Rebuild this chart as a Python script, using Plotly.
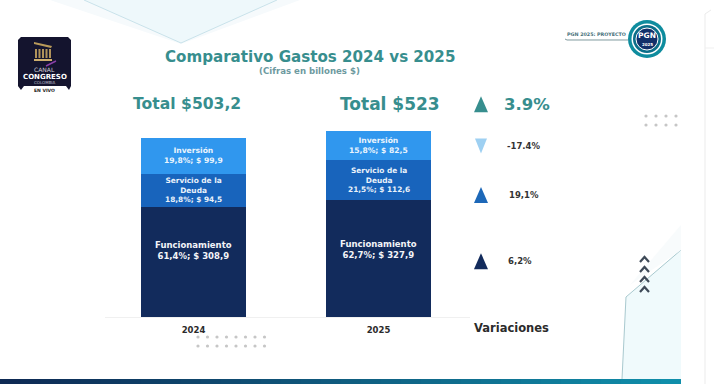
import plotly.graph_objects as go

# ---- data ----
years = ["2024", "2025"]
funcionamiento = [308.9, 327.9]
servicio_deuda = [94.5, 112.6]
inversion = [99.9, 82.5]
func_labels = ["Funcionamiento<br>61,4%; $ 308,9", "Funcionamiento<br>62,7%; $ 327,9"]
deuda_labels = ["Servicio de la<br>Deuda<br>18,8%; $ 94,5", "Servicio de la<br>Deuda<br>21,5%; $ 112,6"]
inv_labels = ["Inversión<br>19,8%; $ 99,9", "Inversión<br>15,8%; $ 82,5"]
totals = ["Total $503,2", "Total $523"]
total_heights = [598, 598]
variation_labels = ["3.9%", "-17.4%", "19,1%", "6,2%"]
variation_heights = [598, 481, 343, 157]
variation_dirs = [1, -1, 1, 1]

W, H, BASE = 714, 384, 317
PX_PER_UNIT = 0.3557
TEAL = "#378E8E"
C_FUNC, C_DEUDA, C_INV = "#122B5C", "#1864BC", "#3097EE"
FONT = "DejaVu Sans"

x_pos = [0, 1]
var_x = 1.554

fig = go.Figure()
for name, vals, col in [("Funcionamiento", funcionamiento, C_FUNC),
                        ("Servicio de la Deuda", servicio_deuda, C_DEUDA),
                        ("Inversión", inversion, C_INV)]:
    fig.add_bar(x=x_pos, y=vals, name=name, marker=dict(color=col, line_width=0),
                width=0.568, showlegend=False, hoverinfo="skip")


def px(x):
    return x / W


def py(y):
    return (BASE - y) / BASE


shapes = []

# variation triangles, anchored to the data axes and sized in pixels
for yv, d, col, hw, hh in zip(variation_heights, variation_dirs,
                              [TEAL, "#9ED0F2", "#1D68B8", C_FUNC],
                              [7, 6, 7, 7], [8, 7.5, 8, 8]):
    shapes.append(dict(type="path", xref="x", yref="y", xsizemode="pixel", ysizemode="pixel",
                       xanchor=var_x, yanchor=yv, layer="above", line_width=0, fillcolor=col,
                       path=f"M {-hw} {-d * hh} L {hw} {-d * hh} L 0 {d * hh} Z"))


def rect(x0, y0, x1, y1, color):
    shapes.append(dict(type="rect", xref="paper", yref="paper", x0=px(x0), x1=px(x1),
                       y0=py(y0), y1=py(y1), fillcolor=color, line_width=0, layer="below"))


def poly(points, fill=None, line=None, width=1, layer="below"):
    d = "M " + " L ".join(f"{px(a):.5f} {py(b):.5f}" for a, b in points)
    if fill:
        d += " Z"
    s = dict(type="path", xref="paper", yref="paper", path=d, layer=layer,
             line=dict(color=line or "rgba(0,0,0,0)", width=width if line else 0))
    if fill:
        s["fillcolor"] = fill
    shapes.append(s)


def dot(x, y, r, color, layer="below", line=None, lw=0):
    shapes.append(dict(type="circle", xref="paper", yref="paper", x0=px(x - r), x1=px(x + r),
                       y0=py(y + r), y1=py(y - r), fillcolor=color, layer=layer,
                       line=dict(color=line or color, width=lw)))


# top wedge
poly([(50, 0), (181, 44), (300, 0)], fill="#F6FAFC")
poly([(84, 0), (181, 43), (277, 0)], fill="#EEF8FB")
poly([(84, 0), (181, 43), (277, 0)], line="#C9E2EA", width=1)
# lower right decoration
poly([(622, 379), (626, 297), (681, 250), (681, 379)], fill="#F0FAFC")
poly([(622, 379), (626, 297), (681, 250)], line="#A9C9CF", width=1)
poly([(630, 285), (681, 225), (681, 250)], fill="#F8FBFC")
# right frame
poly([(705, 384), (705, 14), (711, 10)], line="#EBEBEB", width=1)
poly([(705, 48), (714, 48)], line="#EFEFEF", width=1)
# bottom band
n = 34
c0, c1 = (14, 42, 84), (16, 142, 170)
rect(0, 379, 681, 384, "rgb(15,92,127)")
for i in range(n):
    t = i / (n - 1)
    col = "rgb(%d,%d,%d)" % tuple(round(a + (b - a) * t) for a, b in zip(c0, c1))
    rect(681 * i / n, 379, min(681 * (i + 1) / n + 2, 681), 384, col)
# baseline
poly([(105, 317.5), (470, 317.5)], line="#F0F0F0", width=1)
# dots
for x in (646, 656, 666, 676):
    for y in (116, 125):
        dot(x, y, 1.6, "#C6C6C6")
for i in range(8):
    for y in (337, 346):
        dot(198 + i * 9.5, y, 1.6, "#C6C6C6")
# chevrons
for y in (257, 267, 277, 287):
    poly([(640, y + 5), (644.5, y), (649, y + 5)], line="#3F4A58", width=2.2)
# congreso logo
shapes.append(dict(type="path", xref="paper", yref="paper", layer="below", line_width=0,
                   fillcolor="#14142E",
                   path="M " + " L ".join(f"{px(a):.5f} {py(b):.5f}" for a, b in
                                          [(21, 37), (68, 37), (71, 40), (71, 86), (69, 90), (66, 86),
                                           (24, 86), (21, 90), (18, 86), (18, 40)]) + " Z"))
poly([(34, 42), (52, 46), (51, 48), (34, 44)], fill="#B99A5A")
for x in (36, 39.5, 43, 46.5, 50):
    rect(x - 1, 49, x + 1, 58, "#B0925A")
rect(34, 59, 52, 61, "#CDAE6E")
poly([(46, 66), (56, 61)], line="#8A3FA8", width=1.5)
# PGN logo
dot(647, 39, 19, "#0E8C9E")
dot(647, 39, 15.5, "#FFFFFF")
dot(647, 39, 14, "#0C6F8A")
dot(647, 39, 11, "#12306A", line="#FFFFFF", lw=1)
poly([(565, 39), (567, 40), (628, 40)], line="#7F9A9E", width=1)

annotations = []


def note(x, y, text, size, color, xref="x", yref="y", yshift=0, xanchor="center", bold=True):
    annotations.append(dict(x=x, y=y, xref=xref, yref=yref, text=f"<b>{text}</b>" if bold else text,
                            showarrow=False, xanchor=xanchor, yanchor="middle", yshift=yshift,
                            align="center", font=dict(family=FONT, size=size, color=color)))


note(px(309.5), py(57), "Comparativo Gastos 2024 vs 2025", 15.1, TEAL, "paper", "paper")
note(px(309), py(71), "(Cifras en billones $)", 8.6, "#6E9AA0", "paper", "paper")
note(-0.035, total_heights[0], totals[0], 15.6, TEAL)
note(1.062, total_heights[1], totals[1], 17, TEAL)

for i, xv in enumerate(x_pos):
    f, d, v = funcionamiento[i], servicio_deuda[i], inversion[i]
    note(xv, f / 2, func_labels[i], 8.5, "#F2F4F8", yshift=[12, 9.5][i])
    note(xv, f + d / 2, deuda_labels[i], 7.4, "#EAF2FB")
    note(xv, f + d + v / 2, inv_labels[i], 7.6, "#EAF4FD")

for label, yv, size, col, xv in zip(variation_labels, variation_heights, [16.5, 8.5, 8.5, 8.5],
                                    [TEAL, "#333333", "#333333", "#333333"],
                                    [1.80, 1.784, 1.786, 1.765]):
    note(xv, yv, label, size, col)
note(px(511), py(328), "Variaciones", 11.5, "#2B2B2B", "paper", "paper")

note(px(44.5), py(70), "CANAL", 6, "#CFCFD6", "paper", "paper", bold=False)
note(px(44.5), py(77), "CONGRESO", 7, "#FFFFFF", "paper", "paper")
note(px(44.5), py(82.5), "COLOMBIA", 4, "#BFBFCC", "paper", "paper", bold=False)
note(px(44.5), py(90), "EN VIVO", 4.5, "#222222", "paper", "paper")
note(px(647), py(36), "PGN", 7.5, "#FFFFFF", "paper", "paper")
note(px(647), py(44), "2025", 4, "#FFFFFF", "paper", "paper")
note(px(596), py(34), "PGN 2025: PROYECTO", 4.8, "#47707A", "paper", "paper")

fig.update_layout(
    width=W, height=H, autosize=False, barmode="stack", bargap=0,
    margin=dict(l=0, r=0, t=0, b=H - BASE, pad=0),
    paper_bgcolor="#FFFFFF", plot_bgcolor="rgba(0,0,0,0)", showlegend=False,
    shapes=shapes, annotations=annotations,
    xaxis=dict(range=[-193.5 / 185, (W - 193.5) / 185], tickmode="array", tickvals=x_pos,
               ticktext=[f"<b>{y}</b>" for y in years],
               showgrid=False, zeroline=False, showline=False, ticks="outside", ticklen=5,
               tickcolor="rgba(0,0,0,0)", fixedrange=True,
               tickfont=dict(family=FONT, size=8.5, color="#2B2B2B")),
    yaxis=dict(range=[0, BASE / PX_PER_UNIT], visible=False, showgrid=False, zeroline=False, fixedrange=True),
)
fig.write_html("out.html", config={"displayModeBar": False},
               post_script="document.body.style.margin='0';document.body.style.overflow='hidden';")
